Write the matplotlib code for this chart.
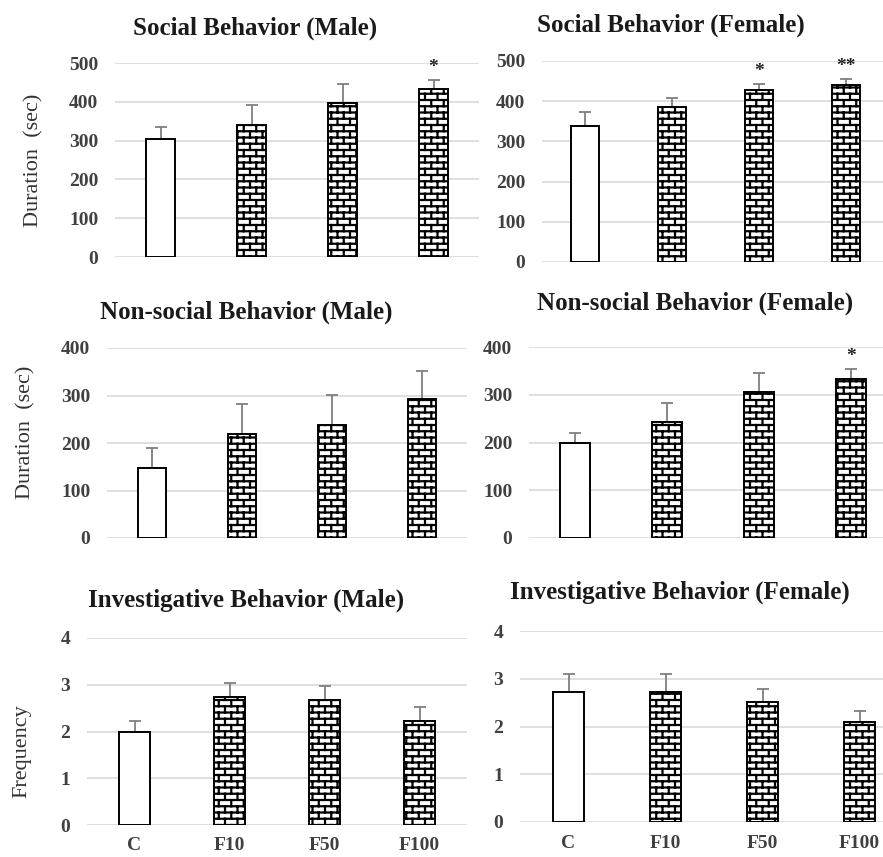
import warnings
import numpy as np
import matplotlib
matplotlib.use("Agg")
import matplotlib.pyplot as plt
import matplotlib.hatch as mhatch
from matplotlib.path import Path

warnings.filterwarnings("ignore")

groups = ["C", "F10", "F50", "F100"]

social_male = [305, 340, 398, 432]
social_male_err = [30, 52, 47, 25]
social_female = [338, 385, 427, 440]
social_female_err = [35, 23, 16, 15]

nonsocial_male = [148, 220, 237, 293]
nonsocial_male_err = [42, 63, 65, 59]
nonsocial_female = [200, 242, 305, 332]
nonsocial_female_err = [20, 40, 41, 22]

invest_male = [2.0, 2.73, 2.67, 2.23]
invest_male_err = [0.22, 0.30, 0.30, 0.30]
invest_female = [2.73, 2.73, 2.52, 2.1]
invest_female_err = [0.37, 0.37, 0.26, 0.22]

social_male_stars = ["", "", "", "*"]
social_female_stars = ["", "", "*", "**"]
nonsocial_male_stars = ["", "", "", ""]
nonsocial_female_stars = ["", "", "", "*"]
invest_stars = ["", "", "", ""]


# brick hatch: rows of mortar lines with staggered vertical joints
class BrickHatch(mhatch.HatchPatternBase):
    def __init__(self, hatch, density):
        n = hatch.count('b')
        self.rows = 16 * n
        self.cols = 8 * n
        segs = []
        if n:
            for i in range(self.rows + 1):
                segs.append(((0, i / self.rows), (1, i / self.rows)))
            for i in range(self.rows):
                y0, y1 = i / self.rows, (i + 1) / self.rows
                if i % 2 == 0:
                    xs = [j / self.cols for j in range(self.cols + 1)]
                else:
                    xs = [(j + 0.5) / self.cols for j in range(self.cols)]
                for x in xs:
                    segs.append(((x, y0), (x, y1)))
        self.segs = segs
        self.num_vertices = 2 * len(segs)

    def set_vertices_and_codes(self, vertices, codes):
        pts = np.array(self.segs, dtype=float).reshape(-1, 2)
        vertices[:] = pts
        codes[0::2] = Path.MOVETO
        codes[1::2] = Path.LINETO


mhatch._hatch_types.append(BrickHatch)

plt.rcParams['font.family'] = ['Liberation Serif', 'DejaVu Serif']
plt.rcParams['hatch.linewidth'] = 1.6

W, H = 883, 857
fig = plt.figure(figsize=(W / 100, H / 100), dpi=100)


def px_rect(x0, x1, ytop, ybot):
    return [x0 / W, 1 - ybot / H, (x1 - x0) / W, (ybot - ytop) / H]


def panel(rect, vals, errs, stars, ymax, step, title, title_xy,
          ylabel=None, ylabel_xy=None, xlabels=False):
    ax = fig.add_axes(rect)
    x = np.arange(len(groups))
    hatches = [None, 'b', 'b', 'b']
    for xi, v, h in zip(x, vals, hatches):
        ax.bar(xi, v, width=0.32, color='white', edgecolor='black',
               linewidth=1.4, hatch=h, zorder=3)
    ax.errorbar(x, vals, yerr=[np.zeros(len(vals)), errs], fmt='none',
                ecolor='#7f7f7f', elinewidth=1.3, capsize=4, capthick=1.3,
                zorder=2)
    for xi, v, e, s in zip(x, vals, errs, stars):
        if s:
            ax.annotate(s, (xi, v + e), xytext=(0, 3), textcoords='offset points',
                        ha='center', va='bottom', fontsize=14, fontweight='bold',
                        color='#222222')
    ax.set_xlim(-0.5, len(groups) - 0.5)
    ax.set_ylim(0, ymax)
    ax.set_yticks(np.arange(0, ymax + step / 2, step))
    ax.yaxis.grid(True, color='#d9d9d9', linewidth=1.2, zorder=0)
    ax.set_axisbelow(True)
    for sp in ax.spines.values():
        sp.set_visible(False)
    ax.tick_params(axis='y', length=0, pad=12, labelsize=14,
                   labelcolor='#404040')
    for lab in ax.get_yticklabels():
        lab.set_fontweight('bold')
    ax.set_xticks(x)
    if xlabels:
        ax.set_xticklabels(groups, fontsize=14, fontweight='bold',
                           color='#404040')
        ax.tick_params(axis='x', length=0, pad=9)
    else:
        ax.set_xticklabels([])
        ax.tick_params(axis='x', length=0)
    fig.text(title_xy[0] / W, 1 - title_xy[1] / H, title, ha='center',
             va='center', fontsize=18, fontweight='bold', color='#1a1a1a')
    if ylabel:
        fig.text(ylabel_xy[0] / W, 1 - ylabel_xy[1] / H, ylabel, ha='center',
                 va='center', rotation=90, fontsize=16, color='#333333')
    return ax


panel(px_rect(115, 479, 63, 257), social_male, social_male_err,
      social_male_stars, 500, 100, "Social Behavior (Male)", (255, 28),
      "Duration  (sec)", (34, 160))
panel(px_rect(542, 889, 61, 262), social_female, social_female_err,
      social_female_stars, 500, 100, "Social Behavior (Female)", (671, 25))
panel(px_rect(107, 467, 348, 538), nonsocial_male, nonsocial_male_err,
      nonsocial_male_stars, 400, 100, "Non-social Behavior (Male)", (246, 312),
      "Duration  (sec)", (26, 432))
panel(px_rect(529, 897, 347, 538), nonsocial_female, nonsocial_female_err,
      nonsocial_female_stars, 400, 100, "Non-social Behavior (Female)",
      (695, 303))
panel(px_rect(87, 467, 638, 825), invest_male, invest_male_err,
      invest_stars, 4, 1, "Investigative Behavior (Male)", (246, 600),
      "Frequency", (22, 751), xlabels=True)
panel(px_rect(520, 908, 631, 822), invest_female, invest_female_err,
      invest_stars, 4, 1, "Investigative Behavior (Female)", (680, 592),
      xlabels=True)

fig.savefig("out.png", dpi=100, facecolor='white')
